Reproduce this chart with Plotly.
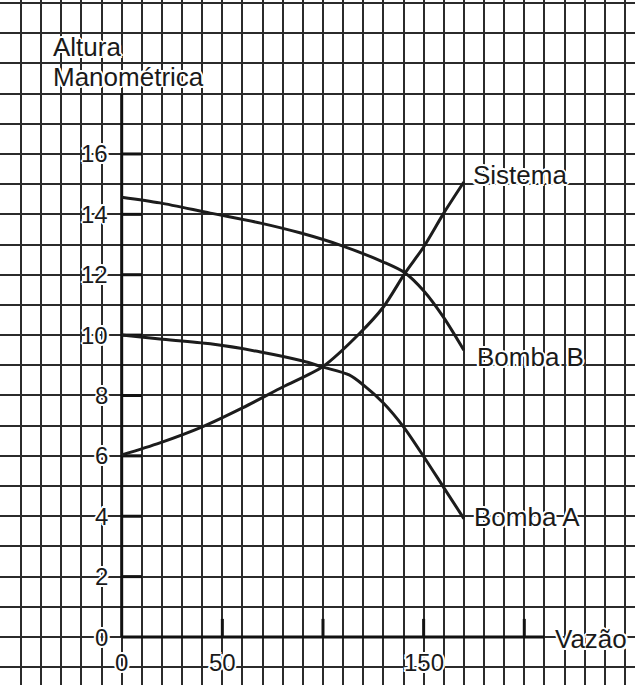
import plotly.graph_objects as go

# ---- data ----
vazao_bomba_b = [0, 19, 44, 69, 89, 108.5, 130, 140.8, 150, 160, 170]
altura_bomba_b = [14.57, 14.38, 14.04, 13.71, 13.38, 12.98, 12.42, 12.06, 11.47, 10.58, 9.5]

vazao_bomba_a = [0, 19, 44, 69, 90, 100, 113, 120, 130, 140, 150, 160, 170]
altura_bomba_a = [10.0, 9.87, 9.71, 9.44, 9.14, 8.94, 8.68, 8.35, 7.75, 6.96, 5.98, 4.95, 3.92]

vazao_sistema = [0, 19, 40, 60, 80, 100, 118.4, 130, 140.8, 150, 160, 170]
altura_sistema = [6.03, 6.43, 6.96, 7.59, 8.28, 8.96, 10.07, 10.93, 12.06, 12.92, 14.04, 15.07]

x_tick_values = [0, 50, 150]
x_tick_marks = [50, 100, 150, 200]
x_tick_labels = ["0", "50", "150"]
y_tick_values = [0, 2, 4, 6, 8, 10, 12, 14, 16]
y_tick_labels = ["0", "2", "4", "6", "8", "10", "12", "14", "16"]

curve_labels = ["Sistema", "Bomba B", "Bomba A"]

W, H = 635, 685
X_RANGE = [-60.45, 255.0]
Y_RANGE = [-1.59, 21.1]

FONT = "Liberation Sans, Arial, Helvetica, sans-serif"
TXT = "#1a1a1a"
LINE = "#1c1c1c"
HALO_OFFSETS = [(2, 0), (-2, 0), (0, 2), (0, -2), (1.5, 1.5), (-1.5, -1.5), (1.5, -1.5), (-1.5, 1.5)]

fig = go.Figure()

for xs, ys in [(vazao_bomba_b, altura_bomba_b), (vazao_bomba_a, altura_bomba_a),
               (vazao_sistema, altura_sistema)]:
    fig.add_trace(go.Scatter(x=xs, y=ys, mode="lines",
                             line=dict(color=LINE, width=3, shape="spline", smoothing=0.8),
                             hoverinfo="skip", showlegend=False))

shapes = []
# masks for the grid edges (top and left)
shapes.append(dict(type="rect", xref="paper", yref="paper", x0=0, x1=1, y0=1 - 10 / H, y1=1,
                   fillcolor="white", line=dict(width=0), layer="between"))
shapes.append(dict(type="rect", xref="paper", yref="paper", x0=0, x1=9 / W, y0=0, y1=1,
                   fillcolor="white", line=dict(width=0), layer="between"))
# axes
shapes.append(dict(type="line", xref="x", yref="y", x0=0, x1=0, y0=0, y1=18,
                   line=dict(color="#111", width=3), layer="between"))
shapes.append(dict(type="line", xref="x", yref="y", x0=0, x1=210, y0=0, y1=0,
                   line=dict(color="#111", width=3), layer="between"))
for v in y_tick_values[1:]:
    shapes.append(dict(type="line", xref="x", yref="y", x0=0, x1=10, y0=v, y1=v,
                       line=dict(color="#111", width=3), layer="between"))
for v in x_tick_marks:
    shapes.append(dict(type="line", xref="x", yref="y", x0=v, x1=v, y0=0, y1=0.6,
                       line=dict(color="#111", width=3), layer="between"))

halo_annotations = []
annotations = []
def txt(x, y, s, xanchor="left", size=26):
    base = dict(x=x, y=y, xref="x", yref="y", text=s, showarrow=False,
                xanchor=xanchor, yanchor="middle", borderpad=0)
    for dx, dy in HALO_OFFSETS:
        halo_annotations.append(dict(base, xshift=dx, yshift=dy,
                                     font=dict(family=FONT, size=size, color="white")))
    annotations.append(dict(base, font=dict(family=FONT, size=size, color=TXT)))

for v, s in zip(y_tick_values, y_tick_labels):
    txt(-6.3, v, s, xanchor="right", size=24)
for v, s in zip(x_tick_values, x_tick_labels):
    txt(v, -0.83, s, xanchor="center", size=24)

txt(174.0, altura_sistema[-1] + 0.23, curve_labels[0])
txt(176.0, altura_bomba_b[-1] - 0.23, curve_labels[1])
txt(174.5, altura_bomba_a[-1] + 0.05, curve_labels[2])
txt(215.0, -0.07, "Vazão")
txt(-34.8, 19.54, "Altura")
txt(-34.8, 18.55, "Manométrica")

fig.update_layout(
    width=W, height=H,
    margin=dict(l=0, r=0, t=0, b=0),
    paper_bgcolor="white", plot_bgcolor="white",
    shapes=shapes, annotations=halo_annotations + annotations,
    xaxis=dict(range=X_RANGE, tick0=0, dtick=10, showgrid=True, gridcolor="#2b2b2b",
               gridwidth=2, zeroline=False, showticklabels=False, ticks="", fixedrange=True),
    yaxis=dict(range=Y_RANGE, tick0=0, dtick=1, showgrid=True, gridcolor="#2b2b2b",
               gridwidth=2, zeroline=False, showticklabels=False, ticks="", fixedrange=True),
    showlegend=False,
)

fig.write_html("out.html", config={"displayModeBar": False},
               post_script="document.body.style.margin='0';document.body.style.overflow='hidden';")
